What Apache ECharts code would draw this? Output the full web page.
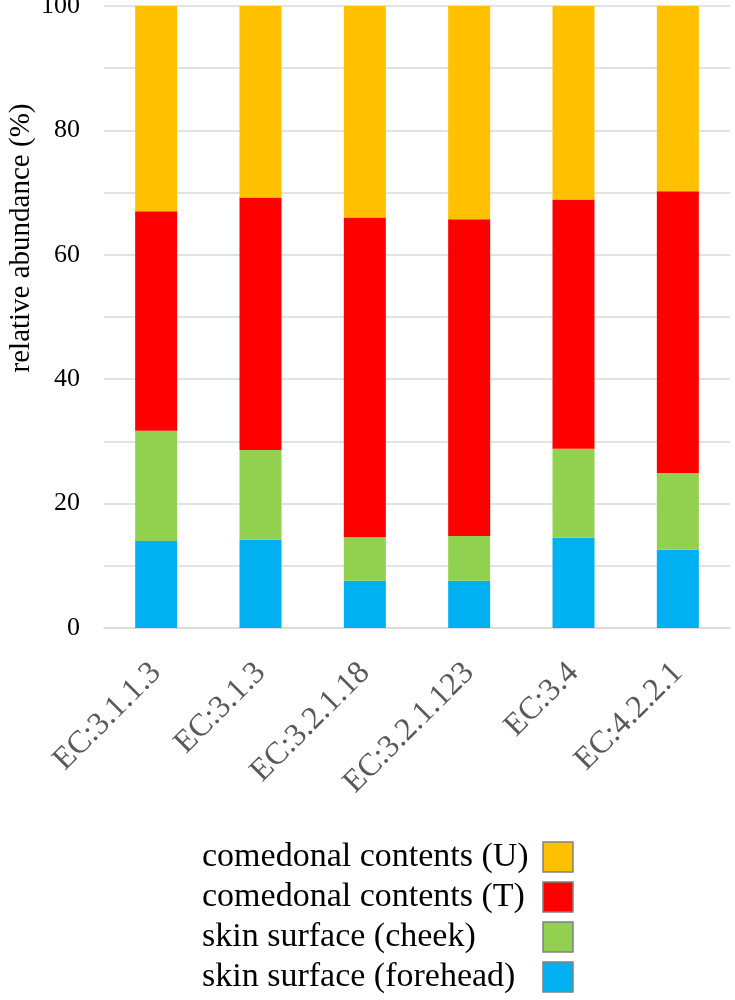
<!DOCTYPE html>
<html>
<head>
<meta charset="utf-8">
<script src="https://cdn.jsdelivr.net/npm/echarts@6/dist/echarts.min.js"></script>
<style>
html,body{margin:0;padding:0;background:#fff;}
#chart{width:735px;height:1000px;}
</style>
</head>
<body>
<div id="chart"></div>
<script>
const categories = ['EC:3.1.1.3', 'EC:3.1.3', 'EC:3.2.1.18', 'EC:3.2.1.123', 'EC:3.4', 'EC:4.2.2.1'];
const foreheadValues = [14.0, 14.2, 7.6, 7.6, 14.5, 12.6];
const cheekValues = [17.7, 14.4, 7.0, 7.2, 14.3, 12.3];
const comedonalTValues = [35.3, 40.6, 51.4, 50.9, 40.1, 45.3];
const comedonalUValues = [33.0, 30.8, 34.0, 34.3, 31.1, 29.8];
const yTicks = [0, 20, 40, 60, 80, 100];
const yAxisTitle = 'relative abundance (%)';

const FONT = "'Liberation Serif', 'Times New Roman', serif";
const names = {
  u: 'comedonal contents (U)',
  t: 'comedonal contents (T)',
  c: 'skin surface (cheek)',
  f: 'skin surface (forehead)'
};

const chart = echarts.init(document.getElementById('chart'));
function bar(name, data, color) {
  return {
    name: name, type: 'bar', stack: 'total', data: data, barWidth: 42,
    itemStyle: { color: color }, emphasis: { disabled: true }
  };
}
chart.setOption({
  animation: false,
  textStyle: { fontFamily: FONT },
  grid: { left: 104, right: 5, top: 6, bottom: 372, outerBoundsMode: 'none', containLabel: false },
  graphic: [{
    type: 'text', x: 21, y: 238, rotation: Math.PI / 2, silent: true,
    style: {
      text: yAxisTitle, fontSize: 29, fontFamily: FONT, fill: '#000',
      align: 'center', verticalAlign: 'middle'
    }
  }],
  xAxis: {
    type: 'category', data: categories,
    axisLine: { show: true, lineStyle: { color: '#d9d9d9', width: 1.5 } },
    axisTick: { show: false },
    axisLabel: { rotate: 45, margin: 40, fontSize: 32, color: '#595959', fontFamily: FONT, interval: 0 }
  },
  yAxis: {
    type: 'value', min: 0, max: 100, interval: 10,
    axisLine: { show: false }, axisTick: { show: false },
    splitLine: { lineStyle: { color: '#d9d9d9', width: 1.5 } },
    axisLabel: {
      margin: 24, fontSize: 26, color: '#000', fontFamily: FONT,
      formatter: function (v) { return yTicks.indexOf(v) >= 0 ? String(v) : ''; }
    }
  },
  legend: {
    orient: 'vertical', left: 197, top: 835, align: 'right',
    itemWidth: 30, itemHeight: 30, itemGap: 6, icon: 'rect',
    data: [names.u, names.t, names.c, names.f],
    itemStyle: { borderColor: '#808080', borderWidth: 1.5 },
    formatter: function (n) { return '{a|' + n + '}'; },
    textStyle: {
      fontFamily: FONT,
      rich: { a: { width: 336, align: 'left', fontSize: 34, lineHeight: 36, color: '#000', fontFamily: FONT } }
    },
    selectedMode: false
  },
  series: [
    bar(names.f, foreheadValues, '#00B0F0'),
    bar(names.c, cheekValues, '#92D050'),
    bar(names.t, comedonalTValues, '#FF0000'),
    bar(names.u, comedonalUValues, '#FFC000')
  ]
});
</script>
</body>
</html>
